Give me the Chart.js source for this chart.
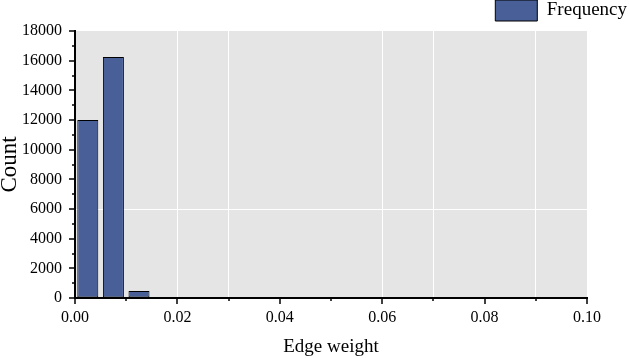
<!DOCTYPE html>
<html>
<head>
<meta charset="utf-8">
<script src="https://cdn.jsdelivr.net/npm/chart.js@4"></script>
<style>
  body { margin: 0; background: #fff; }
  #wrap { width: 630px; height: 358px; }
</style>
</head>
<body>
<div id="wrap"><canvas id="myChart" width="630" height="358"></canvas></div>
<script>
// histogram bins (centre of each 0.005 wide bin) and counts
const binCenters = [0.0025, 0.0075, 0.0125, 0.0175, 0.0225]
const counts = [12000, 16250, 480, 60, 40]
const seriesName = 'Frequency'

const serif = 'Liberation Serif, Times New Roman, serif'
const hundredths = v => Math.round(v * 100)
// only some white grid lines survive in the picture
const xGridShown = [2, 3, 6, 7, 9]
const yGridShown = [6000]

// grey plot background + outward tick marks (major / minor)
const plotFrame = {
  id: 'plotFrame',
  beforeDraw(chart) {
    const { ctx, chartArea: a } = chart
    ctx.save()
    ctx.fillStyle = '#e5e5e5'
    ctx.fillRect(a.left, a.top, a.right - a.left, a.bottom - a.top)
    ctx.restore()
  },
  afterDraw(chart) {
    const { ctx, chartArea: a } = chart
    const x = chart.scales.x
    const y = chart.scales.y
    ctx.save()
    ctx.strokeStyle = '#000'
    ctx.lineWidth = 1.5
    x.ticks.forEach(t => {
      const px = Math.round(x.getPixelForValue(t.value))
      const len = hundredths(t.value) % 2 === 0 ? 6 : 3
      ctx.beginPath()
      ctx.moveTo(px, a.bottom)
      ctx.lineTo(px, a.bottom + len)
      ctx.stroke()
    })
    y.ticks.forEach(t => {
      const py = Math.round(y.getPixelForValue(t.value))
      const len = t.value % 2000 === 0 ? 6 : 3
      ctx.beginPath()
      ctx.moveTo(a.left, py)
      ctx.lineTo(a.left - len, py)
      ctx.stroke()
    })
    ctx.restore()
  },
}

const ctx = document.getElementById('myChart')

new Chart(ctx, {
  type: 'bar',
  data: {
    datasets: [
      {
        label: seriesName,
        data: binCenters.map((c, i) => ({ x: c, y: counts[i] })),
        backgroundColor: '#485f97',
        borderColor: '#000',
        borderWidth: 1,
        borderSkipped: false,
        categoryPercentage: 1,
        barPercentage: 0.82,
      },
    ],
  },
  options: {
    responsive: false,
    animation: false,
    layout: { padding: { left: 0, right: 3, top: 0, bottom: 0 } },
    plugins: {
      legend: {
        position: 'top',
        align: 'end',
        labels: {
          boxWidth: 42,
          boxHeight: 21,
          padding: 0,
          color: '#000',
          font: { family: serif, size: 19 },
        },
      },
      tooltip: { enabled: false },
    },
    scales: {
      x: {
        type: 'linear',
        min: 0,
        max: 0.1,
        offset: false,
        afterFit(scale) { scale.height = 60 },
        border: { color: '#000', width: 2 },
        grid: {
          offset: false,
          drawTicks: true,
          tickLength: 6,
          tickColor: 'rgba(0,0,0,0)',
          lineWidth: 1,
          color: c => (c.tick && xGridShown.includes(hundredths(c.tick.value)) ? '#ffffff' : 'rgba(0,0,0,0)'),
        },
        ticks: {
          stepSize: 0.01,
          autoSkip: false,
          maxRotation: 0,
          padding: 4,
          color: '#000',
          font: { family: serif, size: 16 },
          callback: v => (hundredths(v) % 2 === 0 ? v.toFixed(2) : ''),
        },
        title: {
          display: true,
          text: 'Edge weight',
          color: '#000',
          padding: 0,
          font: { family: serif, size: 19 },
        },
      },
      y: {
        min: 0,
        max: 18000,
        afterFit(scale) { scale.width = 75 },
        border: { color: '#000', width: 2 },
        grid: {
          drawTicks: true,
          tickLength: 6,
          tickColor: 'rgba(0,0,0,0)',
          lineWidth: 1,
          color: c => (c.tick && yGridShown.includes(c.tick.value) ? '#ffffff' : 'rgba(0,0,0,0)'),
        },
        ticks: {
          stepSize: 1000,
          autoSkip: false,
          padding: 7,
          color: '#000',
          font: { family: serif, size: 16 },
          callback: v => (v % 2000 === 0 ? String(v) : ''),
        },
        title: {
          display: true,
          text: 'Count',
          color: '#000',
          padding: { top: -4, bottom: 0 },
          font: { family: serif, size: 23 },
        },
      },
      // empty right-hand strip so the plot stops short of the legend's right edge
      yRight: {
        position: 'right',
        display: true,
        afterFit(scale) { scale.width = 40 },
        border: { display: false },
        grid: { drawOnChartArea: false, drawTicks: false },
        ticks: { display: false },
      },
    },
  },
  plugins: [plotFrame],
})
</script>
</body>
</html>
